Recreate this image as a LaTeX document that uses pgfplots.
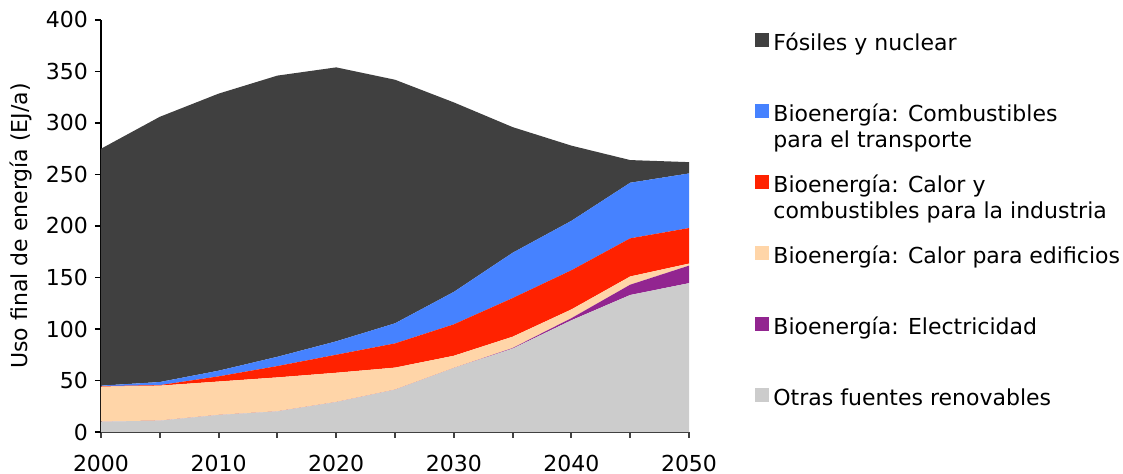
\documentclass[border=0pt]{standalone}
\usepackage{pgfplots}
\pgfplotsset{compat=1.18}
\usepackage{fontspec}
\setmainfont{DejaVu Sans}
\definecolor{cfos}{HTML}{404040}
\definecolor{ctra}{HTML}{4682FF}
\definecolor{cind}{HTML}{FF2200}
\definecolor{cedi}{HTML}{FFD5A8}
\definecolor{cele}{HTML}{922590}
\definecolor{cotr}{HTML}{CCCCCC}
\newcommand\ff{\fontsize{11}{13}\selectfont}
% two-line legend entry, aligned on its first line
\newcommand\two[2]{\vtop{\baselineskip=13pt\hbox{#1}\hbox{#2}}}
\begin{document}
\begin{tikzpicture}
\useasboundingbox (-50.5pt,-21pt) rectangle (511pt,216pt);
\begin{axis}[
  scale only axis, width=294pt, height=206pt,
  xmin=2000, xmax=2050, ymin=0, ymax=400,
  axis lines*=left,
  stack plots=y,
  xtick={2000,2005,...,2050},
  xticklabels={2000,,2010,,2020,,2030,,2040,,2050},
  ytick={0,50,...,400},
  tick align=outside, major tick length=3pt,
  x axis line style={draw=cfos, line width=1.5pt},
  y axis line style={draw=black, line width=1pt},
  xtick style={draw=cfos, line width=1pt},
  ytick style={draw=black, line width=0.8pt},
  /pgf/number format/1000 sep={},
  /pgf/number format/assume math mode=true,
  tick label style={font=\ff},
  xticklabel style={yshift=-5pt},
  ylabel={Uso final de energía (EJ/a)},
  ylabel style={font=\ff},
  reverse legend,
  legend cell align=left,
  legend style={draw=none, fill=none, inner sep=0pt,
    at={(1,1)}, anchor=north west, xshift=33pt, yshift=-4pt,
    font=\ff, row sep=4.5pt,
    nodes={anchor=base west, text height=9pt, text depth=18pt}},
  legend image code/.code={\fill[#1] (0pt,1.5pt) rectangle (7pt,8.5pt);},
]
\addplot[fill=cotr, draw=none] coordinates {
 (2000,10) (2005,11) (2010,16.5) (2015,20) (2020,29) (2025,41)
 (2030,62) (2035,81) (2040,108.5) (2045,133) (2050,144.5)} \closedcycle;
\addlegendentry{Otras fuentes renovables}
\addplot[fill=cele, draw=none] coordinates {
 (2000,0) (2005,0) (2010,0) (2015,0) (2020,0) (2025,0)
 (2030,0) (2035,0.5) (2040,2) (2045,10) (2050,17)} \closedcycle;
\addlegendentry{Bioenergía: Electricidad}
\addplot[fill=cedi, draw=none] coordinates {
 (2000,34) (2005,34) (2010,32.5) (2015,33) (2020,28.5) (2025,21.5)
 (2030,12) (2035,11) (2040,8.5) (2045,8) (2050,2)} \closedcycle;
\addlegendentry{Bioenergía: Calor para edificios}
\addplot[fill=cind, draw=none] coordinates {
 (2000,0.5) (2005,0.5) (2010,5) (2015,11) (2020,17.5) (2025,23.5)
 (2030,30.5) (2035,37.5) (2040,38) (2045,37) (2050,34.5)} \closedcycle;
\addlegendentry{\two{Bioenergía: Calor y}{combustibles para la industria}}
\addplot[fill=ctra, draw=none] coordinates {
 (2000,0.5) (2005,3) (2010,5.5) (2015,9) (2020,13) (2025,19.5)
 (2030,31.5) (2035,44) (2040,48) (2045,54) (2050,53)} \closedcycle;
\addlegendentry{\two{Bioenergía: Combustibles}{para el transporte}}
\addplot[fill=cfos, draw=none] coordinates {
 (2000,230) (2005,257.5) (2010,269) (2015,273) (2020,266) (2025,236.5)
 (2030,184) (2035,122) (2040,73) (2045,22) (2050,11)} \closedcycle;
\addlegendentry{Fósiles y nuclear}
\end{axis}
\end{tikzpicture}
\end{document}
